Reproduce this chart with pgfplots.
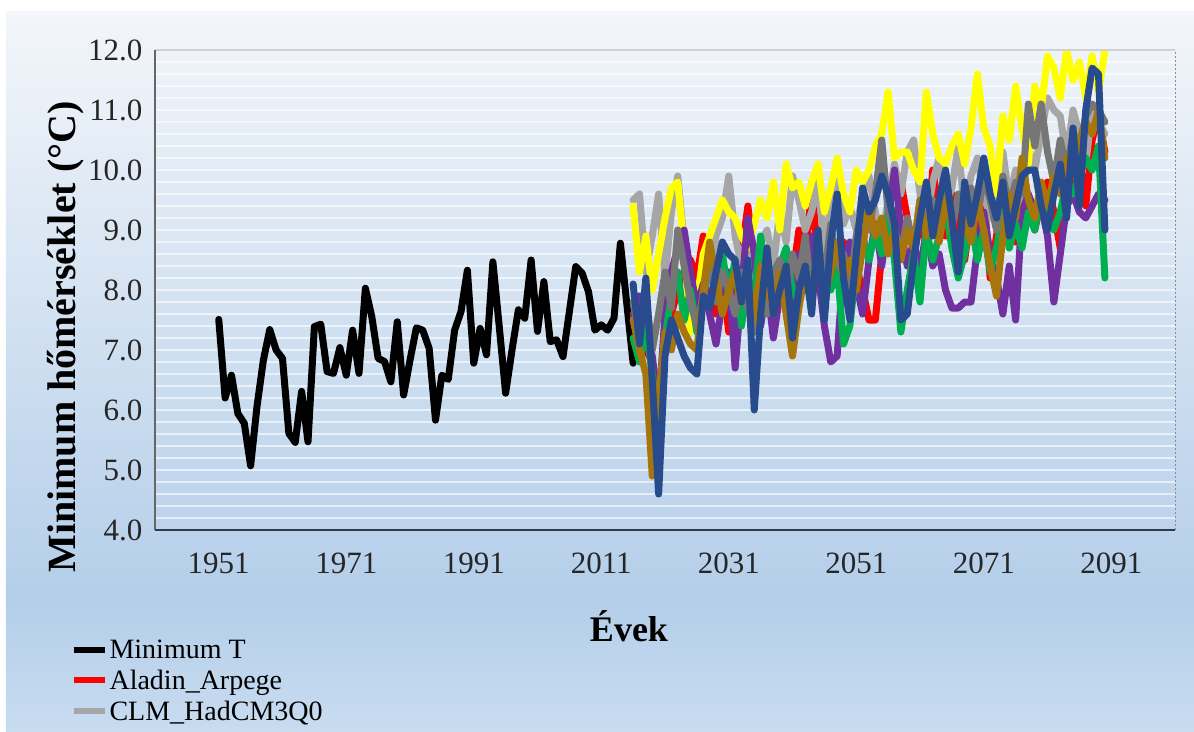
\documentclass[border=0pt]{standalone}
\usepackage{pgfplots}
\usepackage{pgfplotstable}
\pgfplotsset{compat=1.18}
\usepackage{fontspec}
\setmainfont{Liberation Serif}
\definecolor{bgtop}{HTML}{F3F6FA}
\definecolor{bgmid}{HTML}{B4CEE9}
\definecolor{bgbot}{HTML}{C8DCF0}
\definecolor{cred}{HTML}{FF0000}
\definecolor{clgray}{HTML}{A6A6A6}
\definecolor{cyellow}{HTML}{FFFF00}
\definecolor{cpurple}{HTML}{7030A0}
\definecolor{cgreen}{HTML}{00B050}
\definecolor{cdgray}{HTML}{767676}
\definecolor{cbrown}{HTML}{A6760D}
\definecolor{cdblue}{HTML}{274B8C}
\definecolor{axcol}{HTML}{2E3B4E}

\pgfplotstableread{
year red lgray yellow purple green dgray brown dblue
2016 7.6 9.5 9.4 7.5 7.2 7.8 7.5 8.1
2017 7.2 9.6 8.3 7.9 6.8 7.2 7.0 7.1
2018 7.0 8.3 8.9 7.3 7.4 7.9 6.6 8.2
2019 6.8 8.9 8.0 6.9 6.6 7.0 4.9 6.5
2020 5.3 9.6 8.6 6.0 5.8 7.6 6.2 4.6
2021 7.1 8.2 9.2 7.6 7.2 8.3 7.3 6.9
2022 7.6 9.3 9.7 8.3 7.9 7.7 7.0 7.5
2023 8.0 9.9 9.8 8.7 8.3 9.0 7.6 7.2
2024 8.3 8.8 8.7 9.0 7.5 8.4 7.3 6.9
2025 8.5 7.9 7.3 8.3 8.0 7.8 7.1 6.7
2026 8.2 7.6 7.8 7.7 7.3 7.4 7.0 6.6
2027 8.9 8.3 8.6 8.1 7.9 7.9 8.0 7.9
2028 8.0 8.1 8.9 7.6 8.4 8.5 8.8 7.7
2029 7.6 8.9 9.2 7.1 8.0 7.8 8.2 8.3
2030 8.2 9.2 9.5 7.8 8.6 8.3 7.6 8.8
2031 7.3 9.9 9.3 8.3 7.9 8.0 8.0 8.6
2032 8.0 8.9 9.2 6.7 8.5 7.6 8.3 8.5
2033 8.6 8.4 8.9 8.0 7.4 8.3 7.8 7.8
2034 9.4 9.0 8.7 9.2 8.2 7.7 8.2 8.5
2035 8.5 8.0 9.1 8.6 7.9 7.3 7.5 6.0
2036 7.7 8.8 9.5 7.4 8.9 8.2 8.4 7.6
2037 8.3 9.0 9.2 8.1 8.1 7.6 8.0 8.7
2038 7.8 8.4 9.8 7.2 7.6 8.3 7.7 7.6
2039 8.1 9.3 9.0 7.9 8.4 8.5 8.3 8.0
2040 8.6 8.8 10.1 8.5 8.7 7.9 7.6 8.4
2041 8.2 9.9 9.7 7.8 8.0 8.6 6.9 7.2
2042 9.0 9.5 9.8 8.6 7.8 8.2 7.7 8.0
2043 8.4 9.0 9.4 8.0 8.4 8.9 8.3 8.4
2044 9.8 9.3 9.8 8.9 7.9 7.9 8.0 7.6
2045 8.5 9.8 10.1 8.3 8.7 8.8 8.6 9.0
2046 8.0 8.7 9.3 7.4 8.3 8.2 7.9 7.5
2047 8.9 9.4 9.7 6.8 8.0 9.1 8.3 8.8
2048 8.3 9.9 10.2 6.9 8.4 8.4 8.8 9.6
2049 8.8 9.1 9.6 8.4 7.1 8.6 8.2 8.2
2050 7.9 9.4 9.3 8.8 7.4 8.0 8.5 7.5
2051 8.4 9.0 10.0 8.1 8.4 8.9 8.0 8.6
2052 8.0 9.6 9.8 7.6 8.9 9.4 8.7 9.7
2053 7.5 9.9 10.0 8.5 8.5 9.0 9.4 9.3
2054 7.5 9.3 10.4 9.1 9.0 9.6 8.9 9.5
2055 8.6 8.8 10.6 8.4 8.6 10.5 9.2 9.9
2056 9.0 9.5 11.3 9.2 9.3 9.3 8.6 9.6
2057 8.7 10.1 10.2 10.0 8.5 9.0 9.0 9.1
2058 9.8 9.6 10.3 9.0 7.3 8.6 8.5 7.5
2059 9.2 10.3 10.3 8.4 8.0 9.2 9.0 7.6
2060 8.6 10.5 10.0 8.8 8.6 8.7 8.7 8.5
2061 9.1 9.6 9.8 8.3 7.8 9.5 9.5 9.2
2062 8.8 9.1 11.3 9.0 9.0 9.0 8.9 9.8
2063 10.0 9.8 10.6 8.4 8.5 9.5 9.3 8.9
2064 9.3 10.2 10.2 8.6 8.9 9.1 8.8 9.5
2065 8.9 9.4 10.1 8.0 9.4 9.8 9.5 10.0
2066 9.6 9.7 10.4 7.7 8.7 9.0 9.1 9.2
2067 9.0 10.4 10.6 7.7 8.2 9.6 8.6 8.3
2068 8.5 9.3 10.1 7.8 8.6 9.3 9.2 9.8
2069 9.3 9.9 10.7 7.8 9.2 9.7 8.8 9.1
2070 9.0 10.2 11.6 8.7 8.5 9.2 9.5 9.6
2071 9.6 9.6 10.7 9.3 9.0 9.9 9.0 10.2
2072 8.2 9.2 10.4 8.6 8.3 9.5 8.4 9.6
2073 8.9 10.0 9.6 8.2 8.7 9.0 7.9 9.2
2074 9.6 10.3 10.9 7.6 9.3 9.9 8.9 9.8
2075 9.1 9.5 10.5 8.4 8.7 9.4 9.6 8.9
2076 8.8 10.0 11.4 7.5 9.1 9.8 9.2 9.4
2077 9.9 9.4 10.7 9.3 8.7 9.6 10.2 9.9
2078 9.4 10.4 10.1 9.6 9.3 11.1 9.5 10.0
2079 9.0 10.0 11.4 9.3 9.0 10.4 9.2 10.0
2080 9.5 10.6 11.0 9.4 9.6 11.1 9.8 9.4
2081 9.8 11.2 11.9 8.9 9.2 10.3 9.4 9.0
2082 9.3 11.0 11.7 7.8 9.0 9.8 9.9 9.6
2083 8.7 10.9 11.2 8.6 9.3 10.5 9.6 10.1
2084 9.9 10.2 12.0 9.4 9.8 10.0 10.2 9.2
2085 9.5 11.0 11.5 9.6 9.6 10.6 9.9 10.7
2086 10.2 10.6 11.8 9.3 9.9 10.4 10.5 9.4
2087 9.4 10.1 11.2 9.2 10.2 10.9 10.8 11.0
2088 10.5 11.0 11.9 9.4 10.0 11.1 10.6 11.7
2089 10.9 10.8 11.3 9.6 10.4 11.0 11.0 11.6
2090 10.3 10.6 12.0 9.5 8.2 10.8 10.2 9.0
}\models

\begin{document}
\begin{tikzpicture}
% page background (1194 x 731 px, axis lower-left at px (155,530))
\fill[white] (-155pt,-201pt) rectangle (1039pt,530pt);
\shade[top color=bgtop, bottom color=bgmid] (-149pt,-70pt) rectangle (1039pt,518pt);
\shade[top color=bgmid, bottom color=bgbot] (-149pt,-201pt) rectangle (1039pt,-70pt);

\begin{axis}[
  at={(0pt,0pt)}, anchor=south west,
  scale only axis, width=1020pt, height=480pt,
  xmin=1941, xmax=2101, ymin=4, ymax=12,
  axis line style={draw=none},
  xtick={1951,1971,...,2091},
  xticklabels={1951,1971,1991,2011,2031,2051,2071,2091},
  major x tick style={draw=none},
  extra x ticks={1941,1961,...,2101},
  extra x tick labels={},
  extra x tick style={major tick length=9pt, tick align=outside,
     tick style={draw=axcol, line width=1.6pt}, grid=none},
  ytick={4,5,...,12},
  minor y tick num=4,
  ymajorgrids, yminorgrids,
  major grid style={draw=white, opacity=0.6, line width=1.8pt},
  minor grid style={draw=white, opacity=0.6, line width=1.8pt},
  major y tick style={draw=none}, minor y tick style={draw=none},
  yticklabel={\pgfmathprintnumber[fixed,fixed zerofill,precision=1]{\tick}},
  /pgf/number format/assume math mode=true,
  tick label style={font=\fontsize{31}{34}\selectfont, text=black!85},
  yticklabel style={xshift=-9pt},
  xticklabel style={yshift=-19pt},
  every axis plot/.append style={line width=7pt, line join=round, line cap=round},
  legend cell align=left,
  legend style={at={(-0.083,-0.224)}, anchor=north west, draw=none, fill=none,
     font=\fontsize{28}{30}\selectfont, inner sep=0pt, row sep=6pt,
     /tikz/every even column/.append style={column sep=2pt}},
  legend image code/.code={\draw[#1, line width=6pt, line cap=butt] (0pt,0pt) -- (31pt,0pt);},
]
\addplot[black] coordinates {
(1951,7.51)(1952,6.20)(1953,6.58)(1954,5.94)(1955,5.78)(1956,5.07)(1957,6.06)(1958,6.83)
(1959,7.34)(1960,7.00)(1961,6.86)(1962,5.61)(1963,5.46)(1964,6.31)(1965,5.47)(1966,7.39)
(1967,7.43)(1968,6.64)(1969,6.61)(1970,7.04)(1971,6.58)(1972,7.33)(1973,6.61)(1974,8.03)
(1975,7.56)(1976,6.86)(1977,6.81)(1978,6.47)(1979,7.47)(1980,6.25)(1981,6.83)(1982,7.37)
(1983,7.33)(1984,7.03)(1985,5.83)(1986,6.58)(1987,6.51)(1988,7.33)(1989,7.64)(1990,8.33)
(1991,6.78)(1992,7.36)(1993,6.92)(1994,8.47)(1995,7.39)(1996,6.28)(1997,7.00)(1998,7.67)
(1999,7.53)(2000,8.50)(2001,7.31)(2002,8.14)(2003,7.14)(2004,7.17)(2005,6.89)(2006,7.64)
(2007,8.39)(2008,8.28)(2009,7.97)(2010,7.33)(2011,7.42)(2012,7.33)(2013,7.53)(2014,8.78)
(2015,7.78)(2016,6.78)};
\addlegendentry{Minimum T}
\addplot[cred] table[x=year,y=red] {\models};
\addlegendentry{Aladin\_Arpege}
\addplot[clgray] table[x=year,y=lgray] {\models};
\addlegendentry{CLM\_HadCM3Q0}
\addplot[cyellow, forget plot] table[x=year,y=yellow] {\models};
\addplot[cpurple, forget plot] table[x=year,y=purple] {\models};
\addplot[cgreen, forget plot] table[x=year,y=green] {\models};
\addplot[cdgray, forget plot] table[x=year,y=dgray] {\models};
\addplot[cbrown, forget plot] table[x=year,y=brown] {\models};
\addplot[cdblue, forget plot] table[x=year,y=dblue] {\models};
\end{axis}
% plot area frame
\draw[black!18, line width=1.2pt] (0pt,480pt) -- (1020pt,480pt);
\draw[black!45, line width=1pt, dash pattern=on 2pt off 2pt] (1020pt,0pt) -- (1020pt,480pt);
\draw[black!60, line width=1.5pt] (0pt,0pt) -- (0pt,480pt);
\draw[axcol, line width=2.2pt] (0pt,0pt) -- (1020pt,0pt);
% axis titles
\node[rotate=90, font=\bfseries\fontsize{40}{42}\selectfont] at (-89pt,193pt) {Minimum hőmérséklet (°C)};
\node[font=\bfseries\fontsize{36}{38}\selectfont] at (474pt,-96pt) {Évek};
\pgfresetboundingbox
\path[use as bounding box] (-155pt,-201pt) rectangle (1039pt,530pt);
\end{tikzpicture}
\end{document}
